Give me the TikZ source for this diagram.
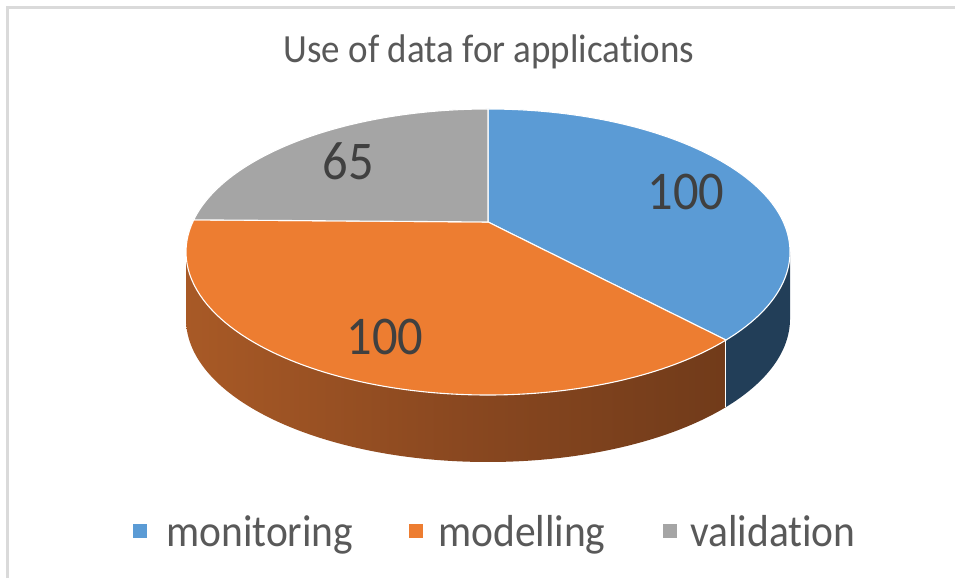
\documentclass[tikz,border=0pt]{standalone}
\usepackage{fontspec}
\setmainfont{Carlito}[Ligatures={NoCommon}]
\definecolor{blueslice}{HTML}{5B9BD5}
\definecolor{orangeslice}{HTML}{ED7D31}
\definecolor{grayslice}{HTML}{A5A5A5}
\definecolor{blueside}{HTML}{223E58}
\definecolor{osideA}{HTML}{C66B2C}
\definecolor{osideB}{HTML}{8A4820}
\definecolor{osideC}{HTML}{582E14}
\definecolor{titlegray}{HTML}{595959}
\definecolor{labelgray}{HTML}{404040}
\definecolor{framegray}{HTML}{DADADA}
\pgfdeclarehorizontalshading{orangeside}{100bp}{color(0bp)=(osideA); color(50bp)=(osideB); color(100bp)=(osideC)}
\newcommand{\talltext}[1]{\scalebox{1}[1.08]{#1}}
\tikzset{
  pieedge/.style={draw=white, line width=1.1pt, line join=round},
  datalabel/.style={text=labelgray, font=\fontsize{50.5}{51}\selectfont, inner sep=0pt},
  legendkey/.style={minimum size=14pt, inner sep=0pt, draw=none},
  legendtext/.style={text=titlegray, font=\fontsize{41.5}{42}\selectfont, inner sep=0pt, anchor=base west},
  ell/.style={x radius=302pt, y radius=143pt}
}
\begin{document}
\begin{tikzpicture}[x=1pt,y=1pt]
\useasboundingbox (0,0) rectangle (955,578);
\fill[white] (0,0) rectangle (955,578);
% chart frame (only its top and left edges fall inside the page)
\draw[framegray, line width=3pt] (7.5,0) -- (7.5,570.5) -- (955,570.5);

% pie geometry: top ellipse centre, apex of the slices, rim depth
\coordinate (c) at (488,326);
\coordinate (v) at (488,356);
\coordinate (ptop) at ([shift={(c)}]90:302pt and 143pt);
\coordinate (pbo) at ([shift={(c)}]-38:302pt and 143pt);
\coordinate (pgo) at ([shift={(c)}]167:302pt and 143pt);
\coordinate (pright) at ([shift={(c)}]0:302pt and 143pt);

% rim of the monitoring slice
\fill[blueside] (pright) arc[start angle=0, end angle=-38, ell] -- ++(0,-67)
  arc[start angle=-38, end angle=0, ell] -- cycle;
% rim of the modelling slice
\path[shading=orangeside] (pbo) arc[start angle=-38, end angle=-180, ell] -- ++(0,-67)
  arc[start angle=-180, end angle=-38, ell] -- cycle;
\draw[white, line width=1pt] (pbo) -- ++(0,-67);

% top faces
\filldraw[fill=blueslice, pieedge] (v) -- (ptop) arc[start angle=90, end angle=-38, ell] -- cycle;
\filldraw[fill=orangeslice, pieedge] (v) -- (pbo) arc[start angle=-38, end angle=-193, ell] -- cycle;
\filldraw[fill=grayslice, pieedge] (v) -- (pgo) arc[start angle=167, end angle=90, ell] -- cycle;

% title
\node[text=titlegray, font=\fontsize{37}{38}\selectfont, inner sep=0pt, anchor=base] (title) at (489,515) {\talltext{Use of data for applications}};

% data labels
\node[datalabel] (lblmon) at (686,386) {\talltext{100}};
\node[datalabel] (lblmod) at (385,241) {\talltext{100}};
\node[datalabel] (lblval) at (348,417) {\talltext{65}};

% legend
\node[legendkey, fill=blueslice] (keymon) at (140,47) {};
\node[legendtext] (txtmon) at (166,32) {\talltext{monitoring}};
\node[legendkey, fill=orangeslice] (keymod) at (416,47) {};
\node[legendtext] (txtmod) at (438,32) {\talltext{modelling}};
\node[legendkey, fill=grayslice] (keyval) at (670,47) {};
\node[legendtext] (txtval) at (690,32) {\talltext{validation}};
\end{tikzpicture}
\end{document}
